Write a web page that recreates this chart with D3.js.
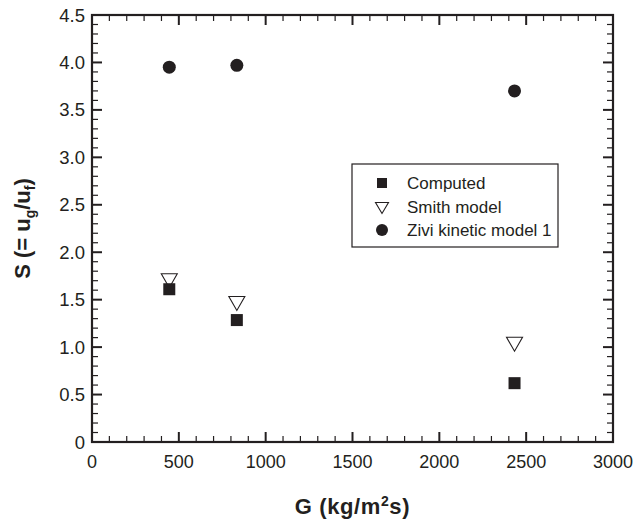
<!DOCTYPE html>
<html>
<head>
<meta charset="utf-8">
<script src="https://cdn.jsdelivr.net/npm/d3@7"></script>
<style>
  body { margin: 0; background: #fff; }
  text { font-family: "Liberation Sans", Arial, Helvetica, sans-serif; fill: #231f20; }
</style>
</head>
<body>
<svg id="chart" width="636" height="519"></svg>
<script>
// data
var G_VALUES = [445, 834, 2433];
var COMPUTED = [1.61, 1.285, 0.62];
var SMITH = [1.70, 1.46, 1.03];
var ZIVI = [3.95, 3.97, 3.70];
var SERIES_NAMES = ["Computed", "Smith model", "Zivi kinetic model 1"];
var X_TICKS = [0, 500, 1000, 1500, 2000, 2500, 3000];
var Y_TICKS = [0, 0.5, 1.0, 1.5, 2.0, 2.5, 3.0, 3.5, 4.0, 4.5];

var INK = "#231f20";
var MARGIN = { left: 92, top: 15, right: 23, bottom: 77 };
var WIDTH = 636, HEIGHT = 519;
var BODY_W = WIDTH - MARGIN.left - MARGIN.right;
var BODY_H = HEIGHT - MARGIN.top - MARGIN.bottom;

var svg = d3.select("#chart");

var xScale = d3.scaleLinear().domain([0, 3000]).range([MARGIN.left, MARGIN.left + BODY_W]);
var yScale = d3.scaleLinear().domain([0, 4.5]).range([MARGIN.top + BODY_H, MARGIN.top]);

// inward ticks on all four sides
var xMinor = d3.range(0, 3001, 100);
var yMinor = d3.range(0, 46).map(d => d / 10);

function tickLen(isMajor) { return isMajor ? 10 : 6; }

var ticks = svg.append("g").attr("stroke", INK);
xMinor.forEach(v => {
    var major = v % 500 === 0;
    var x = xScale(v);
    ticks.append("line").attr("x1", x).attr("x2", x)
        .attr("y1", yScale(0)).attr("y2", yScale(0) - tickLen(major))
        .attr("stroke-width", major ? 2 : 1.2);
    ticks.append("line").attr("x1", x).attr("x2", x)
        .attr("y1", yScale(4.5)).attr("y2", yScale(4.5) + tickLen(major))
        .attr("stroke-width", major ? 2 : 1.2);
});
yMinor.forEach(v => {
    var major = Math.round(v * 10) % 5 === 0;
    var y = yScale(v);
    ticks.append("line").attr("y1", y).attr("y2", y)
        .attr("x1", xScale(0)).attr("x2", xScale(0) + tickLen(major))
        .attr("stroke-width", major ? 2 : 1.2);
    ticks.append("line").attr("y1", y).attr("y2", y)
        .attr("x1", xScale(3000)).attr("x2", xScale(3000) - tickLen(major))
        .attr("stroke-width", major ? 2 : 1.2);
});

// frame
svg.append("rect")
    .attr("x", xScale(0)).attr("y", yScale(4.5))
    .attr("width", xScale(3000) - xScale(0))
    .attr("height", yScale(0) - yScale(4.5))
    .attr("fill", "none").attr("stroke", INK).attr("stroke-width", 2.2);

// tick labels
svg.append("g").selectAll("text").data(X_TICKS).join("text")
    .attr("x", d => xScale(d)).attr("y", yScale(0) + 26)
    .attr("text-anchor", "middle").attr("font-size", 18)
    .text(d => d);
svg.append("g").selectAll("text").data(Y_TICKS).join("text")
    .attr("x", xScale(0) - 7).attr("y", d => yScale(d) + 6.5)
    .attr("text-anchor", "end").attr("font-size", 18.5)
    .text(d => d === 0 ? "0" : d.toFixed(1));

// axis titles
var xt = svg.append("text")
    .attr("x", (xScale(0) + xScale(3000)) / 2).attr("y", 514)
    .attr("text-anchor", "middle").attr("font-size", 22).attr("font-weight", "bold")
    .attr("letter-spacing", 0.6);
xt.append("tspan").text("G (kg/m");
xt.append("tspan").attr("font-size", 14).attr("dy", -8).text("2");
xt.append("tspan").attr("dy", 8).text("s)");

var yt = svg.append("text")
    .attr("transform", `translate(30, ${(yScale(0) + yScale(4.5)) / 2}) rotate(-90)`)
    .attr("text-anchor", "middle").attr("font-size", 22).attr("font-weight", "bold");
yt.append("tspan").text("S (= u");
yt.append("tspan").attr("font-size", 14).attr("dy", 5).text("g");
yt.append("tspan").attr("dy", -5).text("/u");
yt.append("tspan").attr("font-size", 14).attr("dy", 5).text("f");
yt.append("tspan").attr("dy", -5).text(")");

// marker shapes
function triPath(cx, cy, w, h) {
    return `M${cx - w / 2},${cy - h / 2}L${cx + w / 2},${cy - h / 2}L${cx},${cy + h / 2}Z`;
}

var smithPts = G_VALUES.map((g, i) => ({ x: g, y: SMITH[i] }));
var compPts = G_VALUES.map((g, i) => ({ x: g, y: COMPUTED[i] }));
var ziviPts = G_VALUES.map((g, i) => ({ x: g, y: ZIVI[i] }));

svg.append("g").selectAll("path").data(smithPts).join("path")
    .attr("d", d => triPath(xScale(d.x), yScale(d.y), 16, 14))
    .attr("fill", "#fff").attr("stroke", INK).attr("stroke-width", 1.1);

svg.append("g").selectAll("rect").data(compPts).join("rect")
    .attr("x", d => xScale(d.x) - 6).attr("y", d => yScale(d.y) - 6)
    .attr("width", 12).attr("height", 12)
    .attr("fill", INK);

svg.append("g").selectAll("circle").data(ziviPts).join("circle")
    .attr("cx", d => xScale(d.x)).attr("cy", d => yScale(d.y))
    .attr("r", 6.5).attr("fill", INK);

// legend
var legend = svg.append("g").attr("transform", "translate(352, 164)");
legend.append("rect")
    .attr("width", 206).attr("height", 83)
    .attr("fill", "#fff").attr("stroke", INK).attr("stroke-width", 1.2);
var rowY = [19, 43, 66];
legend.append("rect").attr("x", 30 - 5).attr("y", rowY[0] - 5)
    .attr("width", 10).attr("height", 10).attr("fill", INK);
legend.append("path").attr("d", triPath(30, rowY[1] + 1, 13, 11))
    .attr("fill", "#fff").attr("stroke", INK).attr("stroke-width", 1.1);
legend.append("circle").attr("cx", 30).attr("cy", rowY[2]).attr("r", 6).attr("fill", INK);
legend.selectAll("text.lab").data(SERIES_NAMES).join("text")
    .attr("class", "lab")
    .attr("x", 55).attr("y", (d, i) => rowY[i] + 6)
    .attr("font-size", 17)
    .text(d => d);
</script>
</body>
</html>
